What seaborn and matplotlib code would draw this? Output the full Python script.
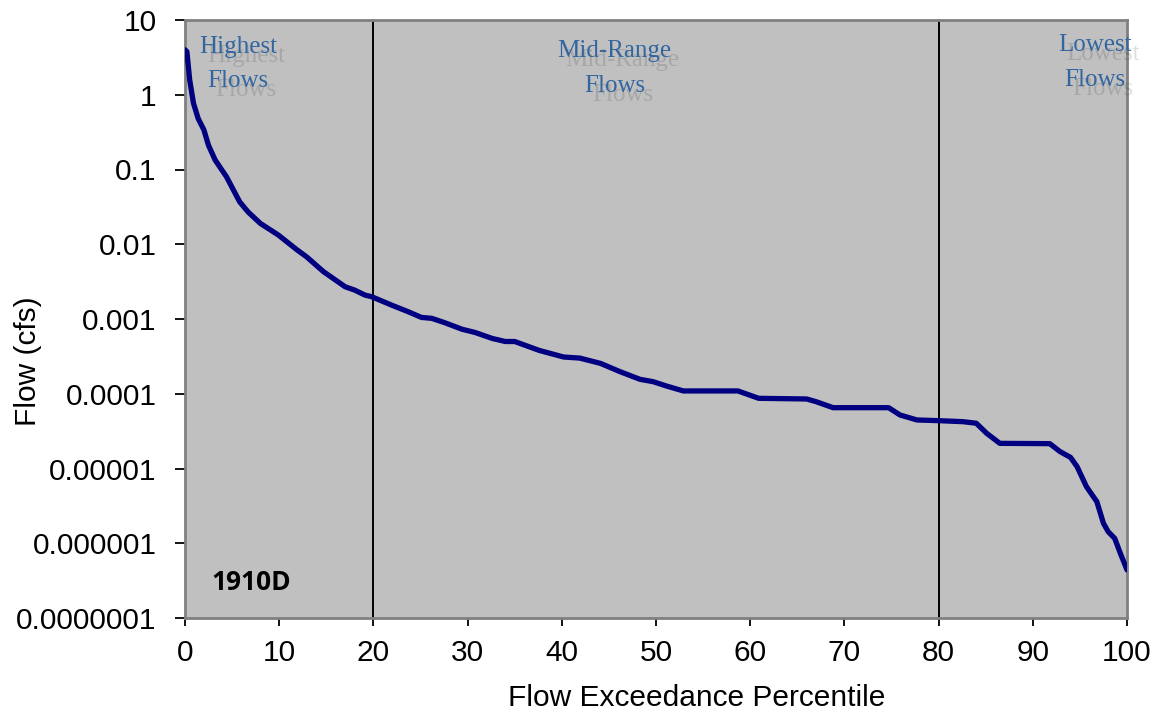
import matplotlib
matplotlib.use("Agg")
import matplotlib.pyplot as plt
import matplotlib.transforms as mtransforms
import seaborn as sns

# ---- data ----
pct = [0, 0.2, 0.5, 0.9, 1.4, 2.0, 2.5, 3.2, 4.4, 5.8, 6.7, 8.0, 9.9, 11.9, 12.9,
       14.7, 17.0, 18.0, 19.1, 19.8, 21.9, 23.7, 25.1, 26.2, 27.6, 29.4, 30.8,
       32.6, 34.0, 35.0, 37.6, 40.2, 41.9, 44.1, 46.2, 48.3, 49.7, 51.1, 52.9,
       58.7, 60.9, 66.0, 67.0, 68.8, 74.7, 75.9, 77.7, 80.1, 82.6, 84.0, 85.1,
       86.5, 91.8, 92.9, 94.0, 94.7, 95.7, 96.8, 97.5, 98.0, 98.7, 99.3, 100]
flow = [4.0, 3.77, 1.57, 0.77, 0.48, 0.34, 0.21, 0.134, 0.080, 0.037, 0.027,
        0.019, 0.0133, 0.0084, 0.0068, 0.0043, 0.0027, 0.00244, 0.00209, 0.00199,
        0.00154, 0.00125, 0.00105, 0.00102, 0.00089, 0.00073, 0.00066, 0.00055,
        0.00050, 0.00050, 0.00038, 0.00031, 0.00030, 0.000255, 0.000197,
        0.000156, 0.000145, 0.000127, 0.000109, 0.000109, 0.0000869, 0.0000851,
        0.0000783, 0.0000651, 0.0000651, 0.0000520, 0.0000446, 0.0000436,
        0.0000423, 0.0000403, 0.0000296, 0.0000217, 0.0000215, 0.0000168,
        0.0000141, 0.0000106, 0.0000057, 0.0000036, 0.00000185, 0.00000143,
        0.00000116, 0.00000073, 0.00000044]

x_ticks = [0, 10, 20, 30, 40, 50, 60, 70, 80, 90, 100]
y_ticks = [1e1, 1e0, 1e-1, 1e-2, 1e-3, 1e-4, 1e-5, 1e-6, 1e-7]
y_tick_labels = ["10", "1", "0.1", "0.01", "0.001", "0.0001", "0.00001",
                 "0.000001", "0.0000001"]
zone_bounds = [20, 80]
zone_labels = ["Highest\nFlows", "Mid-Range\nFlows", "Lowest\nFlows"]
zone_label_x = [5.6, 45.6, 96.6]
zone_label_top = [0.974, 0.966, 0.977]
site_label = "1910D"
x_label = "Flow Exceedance Percentile"
y_label = "Flow (cfs)"

# ---- style ----
sns.set_theme(style="ticks")
plt.rcParams["font.family"] = ["Liberation Sans", "DejaVu Sans"]

fig = plt.figure(figsize=(11.64, 7.21), dpi=100)
ax = fig.add_axes([185 / 1164, 1 - 618 / 721, (1127 - 185) / 1164, (618 - 20) / 721])
ax.set_facecolor("#C0C0C0")

sns.lineplot(x=pct, y=flow, ax=ax, color="#000080", linewidth=3.8,
             solid_joinstyle="round", solid_capstyle="round", zorder=3)

ax.set_yscale("log")
ax.set_xlim(0, 100)
ax.set_ylim(1e-7, 10)
ax.set_xticks(x_ticks)
ax.set_xticklabels([str(v) for v in x_ticks])
ax.set_yticks(y_ticks)
ax.set_yticklabels(y_tick_labels)
ax.minorticks_off()

for xb in zone_bounds:
    ax.axvline(xb, color="black", linewidth=1.4, zorder=2)

for side, sp in ax.spines.items():
    sp.set_visible(True)
    sp.set_color("#808080")
    sp.set_linewidth(2.0)

ax.tick_params(axis="both", which="major", labelsize=21.5, colors="black",
               width=1.3, direction="out")
ax.tick_params(axis="y", length=7.5, pad=13)
ax.tick_params(axis="x", length=6, pad=9)
ax.grid(False)

ax.set_xlabel(x_label, fontsize=21.5, color="black")
ax.set_ylabel(y_label, fontsize=21.5, color="black")
ax.xaxis.set_label_coords(0.543, -0.111)
ax.yaxis.set_label_coords(-0.152, 0.43)

# zone labels with drop shadow
blend = mtransforms.blended_transform_factory(ax.transData, ax.transAxes)
shadow_tr = mtransforms.offset_copy(blend, fig=fig, x=8, y=-9, units="dots")
serif = ["Liberation Serif", "DejaVu Serif"]
for lab, xx, yy in zip(zone_labels, zone_label_x, zone_label_top):
    ax.text(xx, yy, lab, transform=shadow_tr, ha="center", va="top",
            multialignment="center", fontsize=18, linespacing=1.75, family=serif,
            color="black", alpha=0.13, clip_on=False, zorder=4)
    ax.text(xx, yy, lab, transform=blend, ha="center", va="top",
            multialignment="center", fontsize=18, linespacing=1.75, family=serif,
            color="#3366A0", clip_on=False, zorder=5)

ax.text(0.028, 0.047, site_label, transform=ax.transAxes, ha="left",
        va="baseline", fontsize=19, fontweight="bold",
        family=["Liberation Sans Narrow", "Open Sans", "DejaVu Sans"],
        color="black", zorder=5)

fig.savefig("out.png", dpi=100)
